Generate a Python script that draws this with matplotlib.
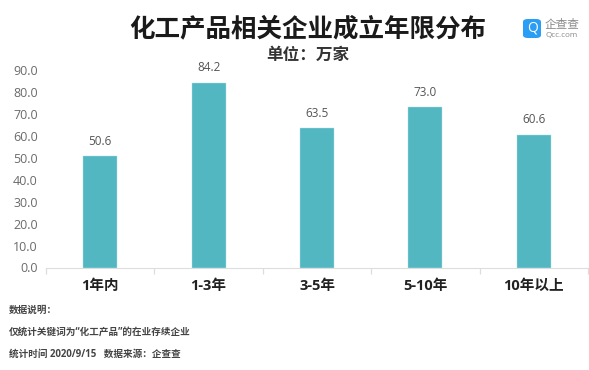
import matplotlib
matplotlib.use("Agg")
import matplotlib.pyplot as plt
from matplotlib.patches import FancyBboxPatch

CATS = ["1年内", "1-3年", "3-5年", "5-10年", "10年以上"]
VALS = [50.6, 84.2, 63.5, 73.0, 60.6]
YTICKS = [0, 10, 20, 30, 40, 50, 60, 70, 80, 90]
NOTES = ["数据说明:", "仅统计关键词为“化工产品”的在业存续企业", "统计时间 2020/9/15   数据来源:企查查"]
NOTES = [n.replace(":", "\uff1a") for n in NOTES]
SUBTITLE = "单位\uff1a万家"

plt.rcParams["font.family"] = ["Open Sans", "Noto Sans CJK SC", "DejaVu Sans"]

W, H = 589, 370
fig = plt.figure(figsize=(W / 100, H / 100), dpi=100)
ax = fig.add_axes([46 / W, 1 - 267.5 / H, 542 / W, 197.5 / H])

x = list(range(len(CATS)))
bars = ax.bar(x, VALS, 0.315, color="#52b7c1", edgecolor="#b5e0e4", lw=0.3)
for b, v in zip(bars, VALS):
    ax.text(b.get_x() + b.get_width() / 2, v + 3.9, f"{v:.1f}", ha="center", va="bottom",
            fontsize=8.5, color="#555555")

ax.set_xlim(-0.5, len(CATS) - 0.5)
ax.set_ylim(0, 90)
ax.set_yticks(YTICKS)
ax.set_yticklabels([f"{t:.1f}" for t in YTICKS], fontsize=9, color="#6a6a6a")
ax.set_xticks([i - 0.5 for i in range(len(CATS) + 1)])
ax.set_xticklabels([])
ax.set_xticks(x, minor=True)
ax.set_xticklabels(CATS, minor=True, fontsize=10.5, fontweight="bold", color="#222222")
ax.tick_params(axis="x", which="major", length=4, color="#dddddd", width=0.9)
ax.tick_params(axis="x", which="minor", length=0, pad=8)
ax.tick_params(axis="y", length=0, pad=6)
for s in ("top", "right", "left"):
    ax.spines[s].set_visible(False)
ax.spines["bottom"].set_color("#dddddd")

fig.text(308 / W, 1 - 29 / H, "化工产品相关企业成立年限分布", ha="center", va="center",
         fontsize=18.4, fontweight="bold", color="#1a1a1a")
fig.text(308 / W, 1 - 55 / H, SUBTITLE, ha="center", va="center",
         fontsize=12, fontweight="bold", color="#333333")

# logo
fig.add_artist(FancyBboxPatch((523 / W, 1 - 38 / H), 18 / W, 19 / H,
                              boxstyle="round,pad=0,rounding_size=0.008",
                              transform=fig.transFigure, fc="#2a9df4", ec="none"))
fig.text(532 / W, 1 - 28.5 / H, "Q", ha="center", va="center", fontsize=10, color="white")
fig.text(545 / W, 1 - 24.5 / H, "企查查", ha="left", va="center", fontsize=8.4, color="#8a8a8a")
fig.text(545 / W, 1 - 35 / H, "Qcc.com", ha="left", va="center", fontsize=5.8, color="#8a8a8a")

for y, t in zip((310, 332, 354), NOTES):
    fig.text(9 / W, 1 - y / H, t, ha="left", va="center", fontsize=6.9, fontweight="bold", color="#444444")

fig.savefig("out.png", dpi=100)
